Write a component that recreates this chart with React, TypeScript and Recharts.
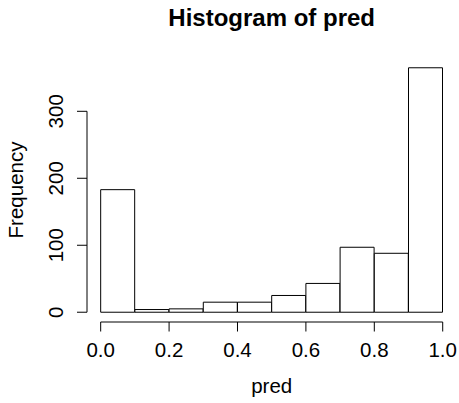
import React from "react";
import {
  ComposedChart,
  Bar,
  XAxis,
  YAxis,
  ReferenceLine,
  Label,
} from "recharts";

// Histogram bins of `pred` (width 0.1) and their counts
const binStarts = [0.0, 0.1, 0.2, 0.3, 0.4, 0.5, 0.6, 0.7, 0.8, 0.9];
const binWidth = 0.1;
const counts = [183, 4, 5, 15, 15, 25, 43, 97, 88, 365];

const xTicks = [0, 0.2, 0.4, 0.6, 0.8, 1.0];
const yTicks = [0, 100, 200, 300];

const xLabels = ["0.0", "0.2", "0.4", "0.6", "0.8", "1.0"];

const data = binStarts.map((start, i) => ({
  mid: start + binWidth / 2,
  count: counts[i],
}));

// R-style axis extension: 4% on each side of the data range
const xLim = [binStarts[0], binStarts[binStarts.length - 1] + binWidth];
const yLim = [0, Math.max(...counts)];
const ext = (lim: number[]) => {
  const d = (lim[1] - lim[0]) * 0.04;
  return [lim[0] - d, lim[1] + d];
};
const xDomain = ext(xLim);
const yDomain = ext(yLim);

const FONT = "'Liberation Sans', Arial, Helvetica, sans-serif";
const INK = "#000";

const XTick = (props: any) => {
  const { x, y, payload } = props;
  const idx = xTicks.indexOf(payload.value);
  return (
    <g>
      <line x1={x} x2={x} y1={y} y2={y + 9.5} stroke={INK} strokeWidth={1} />
      <text
        x={x}
        y={y + 34.5}
        textAnchor="middle"
        fontFamily={FONT}
        fontSize={20.5}
        fill={INK}
      >
        {idx >= 0 ? xLabels[idx] : payload.value}
      </text>
    </g>
  );
};

const YTick = (props: any) => {
  const { x, y, payload } = props;
  const tx = x - 24;
  return (
    <g>
      <line x1={x - 10} x2={x} y1={y} y2={y} stroke={INK} strokeWidth={1} />
      <text
        x={tx}
        y={y}
        transform={`rotate(-90, ${tx}, ${y})`}
        textAnchor="middle"
        fontFamily={FONT}
        fontSize={20.5}
        fill={INK}
      >
        {payload.value}
      </text>
    </g>
  );
};

const XTitle = (props: any) => {
  const { viewBox } = props;
  const cx = viewBox.x + viewBox.width / 2;
  return (
    <text
      x={cx}
      y={viewBox.y + 71}
      textAnchor="middle"
      fontFamily={FONT}
      fontSize={20.5}
      fill={INK}
    >
      pred
    </text>
  );
};

const YTitle = (props: any) => {
  const { viewBox } = props;
  const cy = viewBox.y + viewBox.height / 2;
  const tx = 23;
  return (
    <text
      x={tx}
      y={cy}
      transform={`rotate(-90, ${tx}, ${cy})`}
      textAnchor="middle"
      fontFamily={FONT}
      fontSize={20.5}
      fill={INK}
    >
      Frequency
    </text>
  );
};

export default function App() {
  const left = 87;
  const right = 2.6;
  const top = 58;
  const plotCenter = left + (459 - left - right) / 2;
  return (
    <div
      style={{
        position: "fixed",
        left: 0,
        top: 0,
        width: 459,
        height: 403,
        background: "#fff",
      }}
    >
      <div
        style={{
          position: "absolute",
          left: plotCenter - 150,
          width: 300,
          top: 0,
          textAlign: "center",
          fontFamily: FONT,
          fontWeight: "bold",
          fontSize: 24,
          lineHeight: "36px",
          color: INK,
        }}
      >
        Histogram of pred
      </div>
      <ComposedChart
        width={459}
        height={403}
        data={data}
        margin={{ top, right, bottom: 0, left: 0 }}
        barCategoryGap={0}
        barGap={0}
      >
        <XAxis
          dataKey="mid"
          type="number"
          domain={xDomain}
          allowDataOverflow
          ticks={xTicks}
          interval={0}
          axisLine={false}
          tickLine={false}
          tickSize={0}
          tickMargin={0}
          tick={<XTick />}
          height={81}
        >
          <Label content={<XTitle />} />
        </XAxis>
        <YAxis
          type="number"
          domain={yDomain}
          allowDataOverflow
          ticks={yTicks}
          interval={0}
          axisLine={false}
          tickLine={false}
          tickSize={0}
          tickMargin={0}
          tick={<YTick />}
          width={left}
        >
          <Label content={<YTitle />} />
        </YAxis>
        <ReferenceLine
          segment={[
            { x: xLim[0], y: yDomain[0] },
            { x: xLim[1], y: yDomain[0] },
          ]}
          stroke={INK}
          strokeWidth={1}
          ifOverflow="visible"
        />
        <ReferenceLine
          segment={[
            { x: xDomain[0], y: yTicks[0] },
            { x: xDomain[0], y: yTicks[yTicks.length - 1] },
          ]}
          stroke={INK}
          strokeWidth={1}
          ifOverflow="visible"
        />
        <Bar
          dataKey="count"
          fill="#fff"
          stroke={INK}
          strokeWidth={1}
          isAnimationActive={false}
        />
      </ComposedChart>
    </div>
  );
}
